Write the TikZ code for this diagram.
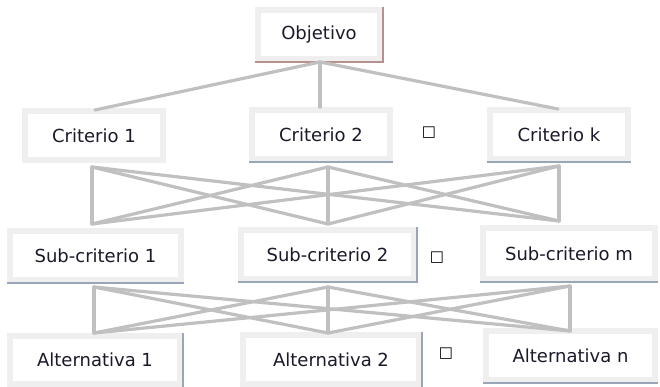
\documentclass[tikz,border=0pt]{standalone}
\usepackage{fontspec}
\setmainfont{DejaVu Sans}
\begin{document}
\begin{tikzpicture}[x=1pt,y=-1pt,
  box/.style={draw=boxgray,line width=6pt,fill=white,inner sep=0pt,
    font=\fontsize{18pt}{21pt}\selectfont,text=txt},
  link/.style={draw=linkgray,line width=3.2pt,line cap=round,line join=round},
  shb/.style={draw=shblue,line width=1.3pt},
  shr/.style={draw=shred,line width=1.3pt},
  dots/.style={font=\fontsize{15pt}{17pt}\selectfont,text=black,inner sep=0pt}]
\definecolor{boxgray}{HTML}{EFEFEF}
\definecolor{linkgray}{HTML}{C0C0C0}
\definecolor{shblue}{HTML}{9AA6B8}
\definecolor{shred}{HTML}{B89090}
\definecolor{txt}{HTML}{1A1A2A}
\useasboundingbox (0,0) rectangle (660,387);
% boxes
\node[box,minimum width=122pt,minimum height=49pt] (obj) at (319,34.5) {Objetivo};
\node[box,minimum width=138pt,minimum height=49pt] (c1) at (94,135.5) {Criterio 1};
\node[box,minimum width=138pt,minimum height=49pt] (c2) at (321,134.5) {Criterio 2};
\node[box,minimum width=138pt,minimum height=49pt] (ck) at (559,134.5) {Criterio k};
\node[box,minimum width=171pt,minimum height=49pt] (s1) at (95.5,255.5) {Sub-criterio 1};
\node[box,minimum width=173pt,minimum height=49pt] (s2) at (327.5,254.5) {Sub-criterio 2};
\node[box,minimum width=172pt,minimum height=51pt] (sm) at (569,253.5) {Sub-criterio m};
\node[box,minimum width=170pt,minimum height=48pt] (a1) at (95,360) {Alternativa 1};
\node[box,minimum width=176pt,minimum height=49pt] (a2) at (331,359.5) {Alternativa 2};
\node[box,minimum width=169pt,minimum height=49pt] (an) at (570.5,355.5) {Alternativa n};
% ellipsis squares
\node[dots] (d1) at (429,133) {□};
\node[dots] (d2) at (437,258) {□};
\node[dots] (d3) at (446,354) {□};
% shadows
\draw[shr] (obj.north east) -- (obj.south east) -- (obj.south west);
\draw[shb] (c2.south west) -- (c2.south east);
\draw[shb] (ck.south west) -- (ck.south east);
\draw[shb] (s1.south west) -- (s1.south east);
\draw[shb] (s2.north east) -- (s2.south east) -- (s2.south west);
\draw[shb] (sm.south west) -- (sm.south east);
\draw[shb] (a1.north east) -- (a1.south east);
\draw[shb] (a2.north east) -- (a2.south east);
\draw[shb] (an.south west) -- (an.south east);
% connection points
\coordinate (ob) at (320,62);
\coordinate (c1t) at (95,110);
\coordinate (c2t) at (320,107);
\coordinate (ckt) at (558,109);
\coordinate (u1) at (92,167);
\coordinate (u2) at (328,167);
\coordinate (u3) at (559,166);
\coordinate (v1) at (92,224);
\coordinate (v2) at (328,224);
\coordinate (v3) at (559,221);
\coordinate (p1) at (94,287);
\coordinate (p2) at (328,287);
\coordinate (p3) at (570,286);
\coordinate (q1) at (94,333);
\coordinate (q2) at (328,333);
\coordinate (q3) at (570,331);
% links
\draw[link] (ob) -- (c1t);
\draw[link] (ob) -- (c2t);
\draw[link] (ob) -- (ckt);
\foreach \a in {u1,u2,u3}{\foreach \b in {v1,v2,v3}{\draw[link] (\a) -- (\b);}}
\foreach \a in {p1,p2,p3}{\foreach \b in {q1,q2,q3}{\draw[link] (\a) -- (\b);}}
\end{tikzpicture}
\end{document}
